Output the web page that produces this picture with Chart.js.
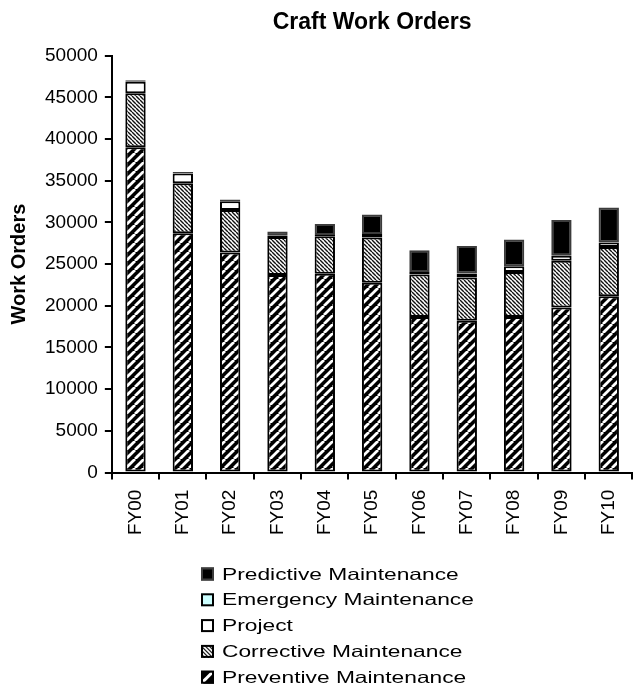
<!DOCTYPE html>
<html>
<head>
<meta charset="utf-8">
<script src="https://cdn.jsdelivr.net/npm/chart.js@4.4.1/dist/chart.umd.min.js"></script>
<style>
  html, body { margin: 0; padding: 0; background: #fff; }
  #wrap { width: 642px; height: 690px; }
</style>
</head>
<body>
<div id="wrap"><canvas id="c" width="642" height="690"></canvas></div>
<script>
// Fiscal years
const categories = ['FY00','FY01','FY02','FY03','FY04','FY05','FY06','FY07','FY08','FY09','FY10'];

// Work order counts by type (stacked bottom to top)
const preventive = [39000, 28700, 26400, 23700, 23850, 22750, 18650, 18200, 18650, 19800, 21150];
const corrective = [ 6500,  6000,  5100,  4550,  4500,  5450,  5100,  5200,  5400,  5600,  5900];
const project    = [ 1350,  1150,  1050,   150,   150,   400,   300,   480,   700,   600,   550];
const emergency  = [    0,     0,     0,     0,     0,     0,     0,     0,     0,     0,     0];
const predictive = [  200,   200,   200,   500,  1300,  2350,  2600,  3300,  3200,  4280,  4200];

const yTicks = [0, 5000, 10000, 15000, 20000, 25000, 30000, 35000, 40000, 45000, 50000];

const FONT = '"Liberation Sans", Arial, Helvetica, sans-serif';

// Hatch fills
function stripeTile(size, bg, fg, width, forward) {
  const t = document.createElement('canvas');
  t.width = size; t.height = size;
  const g = t.getContext('2d');
  g.fillStyle = bg; g.fillRect(0, 0, size, size);
  g.strokeStyle = fg; g.lineWidth = width;
  g.beginPath();
  for (const o of [-size, 0, size]) {
    if (forward) { g.moveTo(o, size); g.lineTo(o + size, 0); }
    else { g.moveTo(o, 0); g.lineTo(o + size, size); }
  }
  g.stroke();
  return g.createPattern(t, 'repeat');
}
const ctx = document.getElementById('c').getContext('2d');
const prevFill = stripeTile(9, '#000', '#fff', 2.8, true);
const corrFill = stripeTile(4, '#fff', '#111', 1.4, false);

const series = [
  { label: 'Preventive Maintenance', data: preventive, backgroundColor: prevFill, borderColor: '#000' },
  { label: 'Corrective Maintenance', data: corrective, backgroundColor: corrFill, borderColor: '#000' },
  { label: 'Project', data: project, backgroundColor: '#fff', borderColor: '#000' },
  { label: 'Emergency Maintenance', data: emergency, backgroundColor: '#ccffff', borderColor: '#000' },
  { label: 'Predictive Maintenance', data: predictive, backgroundColor: '#000', borderColor: '#3c3c3c' }
];

// Vertical legend under the axis labels, top entry = top of stack
const stackLegend = {
  id: 'stackLegend',
  afterDraw(chart) {
    const c = chart.ctx;
    const boxX = 201, box = 13, textX = 222, y0 = 574, step = 25.8;
    const items = chart.data.datasets.slice().reverse();
    c.save();
    items.forEach((ds, i) => {
      const cy = y0 + i * step;
      const bx = boxX, by = cy - box / 2;
      if (ds.label === 'Preventive Maintenance') {
        c.fillStyle = '#000'; c.fillRect(bx, by, box, box);
        c.save();
        c.beginPath(); c.rect(bx, by, box, box); c.clip();
        c.strokeStyle = '#fff'; c.lineWidth = 3;
        c.beginPath(); c.moveTo(bx - 1, by + box + 1); c.lineTo(bx + box + 1, by - 1); c.stroke();
        c.restore();
      } else if (ds.label === 'Corrective Maintenance') {
        c.fillStyle = '#fff'; c.fillRect(bx, by, box, box);
        c.save();
        c.beginPath(); c.rect(bx, by, box, box); c.clip();
        c.strokeStyle = '#222'; c.lineWidth = 1.3;
        c.beginPath();
        for (let o = -box; o <= box; o += 4) { c.moveTo(bx + o, by); c.lineTo(bx + o + box, by + box); }
        c.stroke();
        c.restore();
      } else {
        c.fillStyle = ds.backgroundColor; c.fillRect(bx, by, box, box);
      }
      c.strokeStyle = ds.borderColor; c.lineWidth = 2;
      c.strokeRect(bx + 1, by + 1, box - 2, box - 2);

      c.fillStyle = '#000';
      c.font = '16.5px ' + FONT;
      c.textBaseline = 'middle';
      c.save();
      c.translate(textX, cy + 1);
      c.scale(1.38, 1);
      c.fillText(ds.label, 0, 0);
      c.restore();
    });
    c.restore();
  }
};

new Chart(ctx, {
  type: 'bar',
  data: {
    labels: categories,
    datasets: series.map(s => Object.assign({
      borderWidth: 2,
      borderSkipped: false,
      categoryPercentage: 1.0,
      barPercentage: 0.43
    }, s))
  },
  options: {
    responsive: false,
    animation: false,
    devicePixelRatio: 1,
    layout: { padding: { left: 0, right: 0, top: 0, bottom: 145 } },
    plugins: {
      legend: { display: false },
      tooltip: { enabled: false },
      title: {
        display: true,
        text: 'Craft Work Orders',
        fullSize: false,
        color: '#000',
        font: { family: FONT, size: 23, weight: 'bold' },
        padding: { top: 9, bottom: 19 }
      }
    },
    scales: {
      x: {
        stacked: true,
        grid: { display: true, offset: true, drawOnChartArea: false, drawTicks: true, tickLength: 7, color: '#000', lineWidth: 2 },
        border: { display: true, color: '#000', width: 2 },
        ticks: {
          autoSkip: false, maxRotation: 90, minRotation: 90, padding: 10,
          color: '#000', font: { family: FONT, size: 19 }
        }
      },
      y: {
        stacked: true,
        min: 0, max: 50000,
        afterBuildTicks(axis) { axis.ticks = yTicks.map(v => ({ value: v })); },
        grid: { display: true, drawOnChartArea: false, drawTicks: true, tickLength: 7, color: '#000', lineWidth: 2 },
        border: { display: true, color: '#000', width: 2 },
        ticks: {
          padding: 7, color: '#000', font: { family: FONT, size: 19 },
          callback: v => String(v)
        },
        title: {
          display: true, text: 'Work Orders', color: '#000',
          font: { family: FONT, size: 20, weight: 'bold' },
          padding: { top: 7, bottom: 7 }
        }
      }
    }
  },
  plugins: [stackLegend]
});
</script>
</body>
</html>
